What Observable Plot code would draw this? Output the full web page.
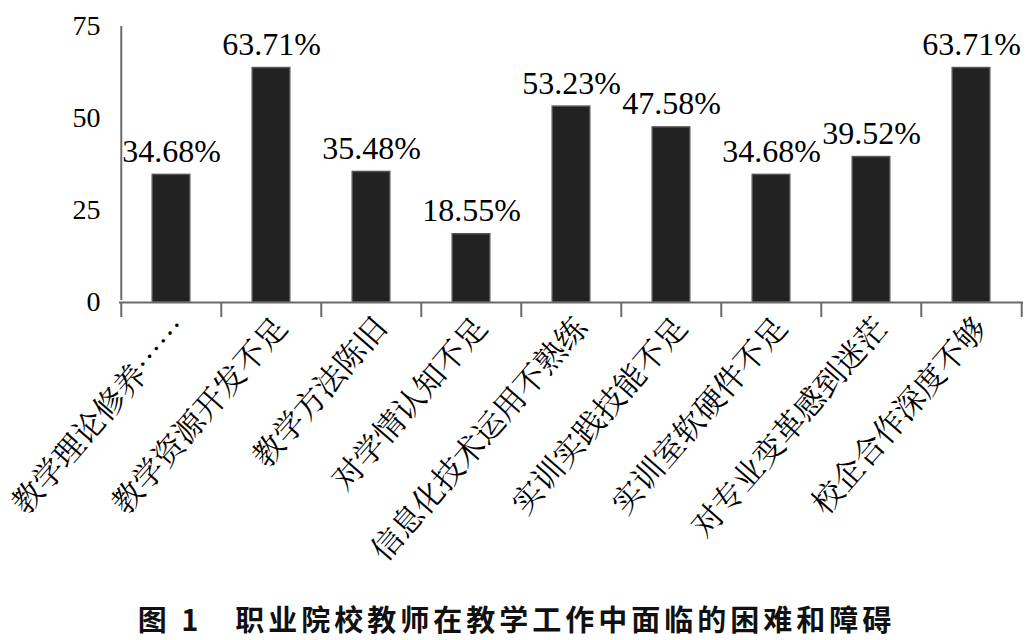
<!DOCTYPE html>
<html>
<head>
<meta charset="utf-8">
<script src="https://cdn.jsdelivr.net/npm/d3@7"></script>
<script src="https://cdn.jsdelivr.net/npm/@observablehq/plot@0.6"></script>
<style>
  html, body { margin: 0; padding: 0; background: #fff; }
  #wrap { position: relative; width: 1033px; height: 640px; }
  #title {
    position: absolute; left: 0; top: 604px; width: 1033px; text-align: center;
    font-family: "Noto Sans CJK SC", sans-serif; font-weight: bold; font-size: 29px;
    line-height: 29px; letter-spacing: 4px; color: #111; white-space: pre;
  }
</style>
</head>
<body>
<div id="wrap">
  <div id="chart"></div>
  <div id="title">图 1　职业院校教师在教学工作中面临的困难和障碍</div>
</div>
<script>
const categories = ["教学理论修养……","教学资源开发不足","教学方法陈旧","对学情认知不足","信息化技术运用不熟练","实训实践技能不足","实训室软硬件不足","对专业变革感到迷茫","校企合作深度不够"];
const values = [34.68, 63.71, 35.48, 18.55, 53.23, 47.58, 34.68, 39.52, 63.71];
const yTicks = [0, 25, 50, 75];

const data = categories.map((c, i) => ({category: c, value: values[i]}));

const W = 1033, H = 598, ML = 119, MR = 10, MT = 26, MB = H - 302;
const step = (W - ML - MR) / categories.length;
const barW = 38;
const axisColor = "#6b6b6b";
const serif = "'Liberation Serif', 'Times New Roman', serif";
const cjk = "'Noto Serif CJK SC', 'Liberation Serif', 'Noto Sans CJK SC', serif";

const chart = Plot.plot({
  width: W, height: H,
  marginLeft: ML, marginRight: MR, marginTop: MT, marginBottom: MB,
  style: {background: "white", color: "black", fontFamily: serif},
  x: {domain: categories, padding: 0, label: null},
  y: {domain: [0, 75], label: null},
  marks: [
    Plot.barY(data, {x: "category", y: "value", fill: "#222", stroke: "#555", strokeWidth: 1.5,
      insetLeft: (step - barW) / 2, insetRight: (step - barW) / 2}),
    Plot.ruleY([0], {stroke: axisColor, strokeWidth: 2}),
    Plot.ruleX([categories[0]], {dx: -step / 2, y1: 0, y2: 75, insetTop: -2, stroke: axisColor, strokeWidth: 2}),
    Plot.axisX({ticks: categories, tickSize: 15, tickFormat: () => "", label: null, dx: -step / 2, stroke: axisColor, strokeWidth: 2}),
    Plot.axisX({ticks: [categories[categories.length - 1]], tickSize: 15, tickFormat: () => "", label: null, dx: step / 2, stroke: axisColor, strokeWidth: 2}),
    Plot.axisX({ticks: categories, tickSize: 0, tickPadding: 0, tickRotate: -49, fontSize: 31, fontFamily: cjk,
      textAnchor: "end", lineAnchor: "middle", dx: 10, dy: 20, fill: "black", label: null}),
    Plot.axisY({ticks: yTicks, tickSize: 0, tickPadding: 19, fontSize: 28, fontFamily: serif, fill: "black", label: null}),
    Plot.text(data, {x: "category", y: "value", text: d => d.value.toFixed(2) + "%",
      fontSize: 32, fontFamily: serif, lineAnchor: "bottom", dy: -13, fill: "black"})
  ]
});
document.getElementById("chart").appendChild(chart);
</script>
</body>
</html>
